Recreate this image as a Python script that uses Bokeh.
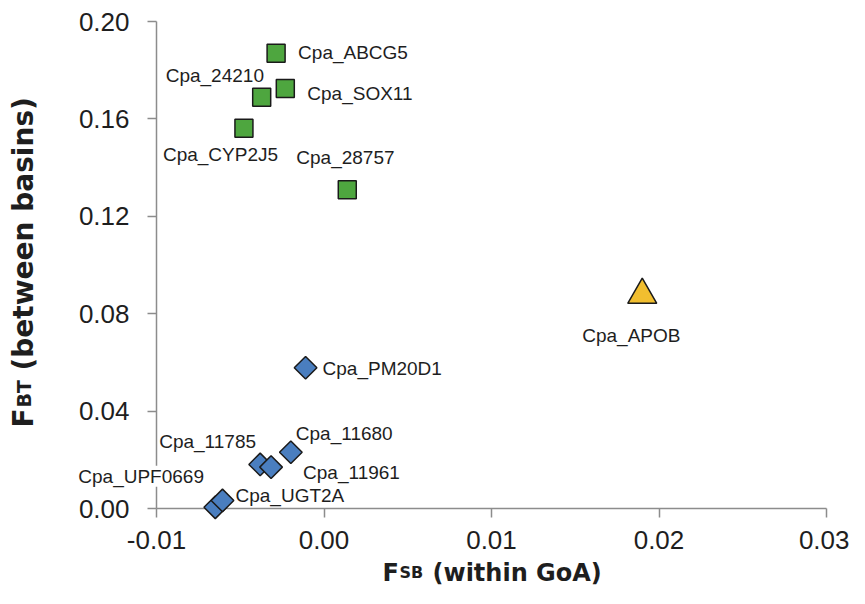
import numpy as np
from bokeh.plotting import figure
from bokeh.models import (Range1d, FixedTicker, PrintfTickFormatter,
                          ColumnDataSource, LabelSet, Label)
from bokeh.core.properties import value
from bokeh.embed import file_html
from bokeh.resources import INLINE

# ---------------- data ----------------
genes_high = ["Cpa_ABCG5", "Cpa_SOX11", "Cpa_24210", "Cpa_CYP2J5", "Cpa_28757"]
fsb_high = [-0.00286, -0.00231, -0.00372, -0.00478, 0.00139]
fbt_high = [0.1870, 0.1725, 0.1689, 0.1562, 0.1309]

genes_apob = ["Cpa_APOB"]
fsb_apob = [0.0190]
fbt_apob = [0.0877]

genes_low = ["Cpa_PM20D1", "Cpa_11680", "Cpa_11785", "Cpa_11961",
             "Cpa_UPF0669", "Cpa_UGT2A"]
fsb_low = [-0.00110, -0.00198, -0.00381, -0.00316, -0.00649, -0.00606]
fbt_low = [0.0578, 0.0231, 0.0181, 0.0170, 0.0005, 0.0033]

x_ticks = [-0.01, 0.0, 0.01, 0.02, 0.03]
y_ticks = [0.0, 0.04, 0.08, 0.12, 0.16, 0.20]

# label placement (screen px: right, down) relative to each point
label_offsets = {
    "Cpa_ABCG5": (22, -1), "Cpa_SOX11": (22, 5), "Cpa_24210": (-96, -22),
    "Cpa_CYP2J5": (-81, 26), "Cpa_28757": (-51, -32), "Cpa_APOB": (-60, 41),
    "Cpa_PM20D1": (17, 1), "Cpa_11680": (5, -19), "Cpa_11785": (-101, -23),
    "Cpa_11961": (32, 5), "Cpa_UPF0669": (-137, -31), "Cpa_UGT2A": (13, -5),
}
boxed_labels = ["Cpa_UPF0669"]   # label drawn on a white box, over the axis

# ---------------- layout (pixels on the canvas) ----------------
W, H = 849, 588
ax_left, ax_right = 156, 826      # where x = -0.01 and x = 0.03 fall
ax_top, ax_bottom = 21, 508       # where y = 0.20 and y = 0.00 fall
kx = (ax_right - ax_left) / (x_ticks[-1] - x_ticks[0])
ky = (ax_bottom - ax_top) / (y_ticks[-1] - y_ticks[0])
x_range = Range1d(x_ticks[0] - ax_left / kx, x_ticks[-1] + (W - ax_right) / kx)
y_range = Range1d(y_ticks[0] - (H - ax_bottom) / ky, y_ticks[-1] + ax_top / ky)

p = figure(width=W, height=H, output_backend="svg", toolbar_location=None,
           x_range=x_range, y_range=y_range,
           min_border_left=0, min_border_right=0, min_border_top=0,
           min_border_bottom=0)
p.outline_line_color = None
p.xgrid.visible = False
p.ygrid.visible = False
p.background_fill_color = "white"
p.border_fill_color = "white"

axis_col = "#8c8c8c"
txt_col = "#1e1e1e"
for ax in (p.xaxis[0], p.yaxis[0]):
    ax.axis_line_color = axis_col
    ax.axis_line_width = 1.5
    ax.major_tick_line_color = axis_col
    ax.major_tick_line_width = 1.5
    ax.major_tick_out = 9
    ax.major_tick_in = 0
    ax.minor_tick_line_color = None
    ax.major_label_text_font = "Liberation Sans"
    ax.major_label_text_font_size = "26px"
    ax.major_label_text_color = txt_col
    ax.formatter = PrintfTickFormatter(format="%.2f")
    ax.level = "underlay"
p.xaxis[0].ticker = FixedTicker(ticks=x_ticks)
p.yaxis[0].ticker = FixedTicker(ticks=y_ticks)
p.xaxis[0].bounds = (x_ticks[0], x_ticks[-1])
p.yaxis[0].bounds = (y_ticks[0], y_ticks[-1])
p.xaxis[0].fixed_location = y_ticks[0]
p.yaxis[0].fixed_location = x_ticks[0]
p.xaxis[0].major_label_standoff = 13
p.yaxis[0].major_label_standoff = 18

edge = "#1a1a1a"
p.scatter(fsb_high, fbt_high, marker="square", size=18,
          fill_color="#4EA63F", line_color=edge, line_width=1.5)
p.scatter(fsb_low, fbt_low, marker="square", angle=np.pi / 4, size=16,
          fill_color="#4A7EBF", line_color=edge, line_width=1.5)
p.scatter(fsb_apob, fbt_apob, marker="triangle", size=29,
          fill_color="#F1BE2F", line_color=edge, line_width=1.5)

all_genes = genes_high + genes_apob + genes_low
all_x = fsb_high + fsb_apob + fsb_low
all_y = fbt_high + fbt_apob + fbt_low

plain = [g for g in all_genes if g not in boxed_labels]
idx = [all_genes.index(n) for n in plain]
src = ColumnDataSource(dict(
    x=[all_x[i] for i in idx], y=[all_y[i] for i in idx], text=plain,
    dx=[label_offsets[n][0] for n in plain],
    dy=[-label_offsets[n][1] for n in plain]))
p.add_layout(LabelSet(source=src, x="x", y="y", text="text",
                      x_offset="dx", y_offset="dy",
                      text_font=value("Liberation Sans"),
                      text_font_size=value("19px"),
                      text_color=txt_col, text_align="left",
                      text_baseline="middle"))

for n in boxed_labels:
    i = all_genes.index(n)
    p.add_layout(Label(x=all_x[i], y=all_y[i], text=n,
                       x_offset=label_offsets[n][0],
                       y_offset=-label_offsets[n][1],
                       text_font="Liberation Sans", text_font_size="19px",
                       text_color=txt_col, text_align="left",
                       text_baseline="middle",
                       background_fill_color="white"))

# ---------------- axis titles (mixed sizes) ----------------
tfont = "DejaVu Sans"
x_mid = (x_ticks[0] + x_ticks[-1]) / 2
x_parts = [("F", "24px", -109), ("SB", "16px", -92),
           ("(within GoA)", "24px", -59)]
for t, fs, off in x_parts:
    p.add_layout(Label(x=x_mid, y=y_ticks[0], x_offset=off, y_offset=-64,
                       text=t, text_font=tfont, text_font_size=fs,
                       text_font_style="bold", text_color=txt_col,
                       text_baseline="alphabetic", text_align="left"))

y_parts = [("F", "28px", 81), ("BT", "19px", 101),
           ("(between basins)", "28px", 138)]
for t, fs, off in y_parts:
    p.add_layout(Label(x=x_ticks[0], y=y_ticks[0], x_offset=-133, y_offset=off,
                       text=t, text_font=tfont, text_font_size=fs,
                       text_font_style="bold", text_color=txt_col,
                       angle=np.pi / 2,
                       text_baseline="alphabetic", text_align="left"))

open("out.html", "w").write(file_html(p, INLINE))
